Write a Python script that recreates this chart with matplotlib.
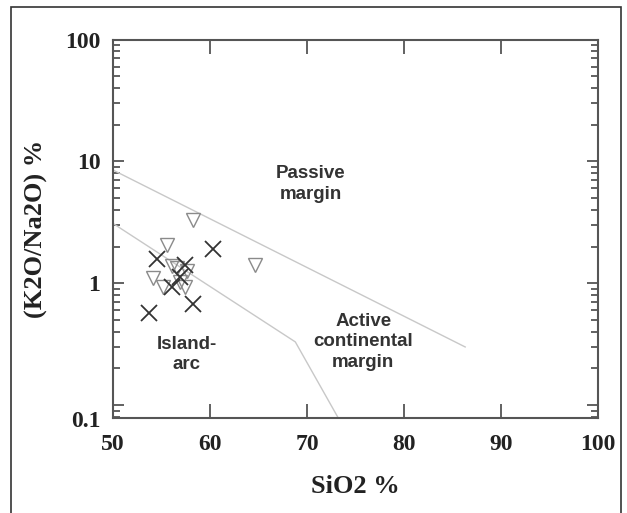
import matplotlib.pyplot as plt
import matplotlib.transforms as mtransforms
from matplotlib.patches import Rectangle

# discrimination boundaries (SiO2 %, K2O/Na2O)
upper_x = [50, 86.3]
upper_y = [8.5, 0.30]
lower_x = [50, 68.8, 73.2]
lower_y = [3.1, 0.33, 0.079]

# samples
cross_x = [54.5, 60.3, 57.4, 56.9, 56.1, 58.3, 53.7]
cross_y = [1.59, 1.90, 1.40, 1.12, 0.93, 0.68, 0.57]
tri_x = [58.3, 55.6, 64.6, 56.1, 56.6, 57.6, 54.1, 55.2, 57.4, 56.9]
tri_y = [3.29, 2.05, 1.40, 1.38, 1.33, 1.25, 1.11, 0.94, 0.94, 1.02]

xticks = [50, 60, 70, 80, 90, 100]
yticks = [0.1, 1, 10, 100]
ytick_labels = ['0.1', '1', '10', '100']

fig = plt.figure(figsize=(6.27, 5.13), dpi=100)
ax = fig.add_axes([0.180, 0.186, 0.774, 0.737])

ax.plot(upper_x, upper_y, color='#c8c8c8', lw=1.0)
ax.plot(lower_x, lower_y, color='#c8c8c8', lw=1.0)

ax.plot(tri_x, tri_y, 'v', ms=10, mfc='none', mec='#8a8a8a', mew=1.0)
ax.plot(cross_x, cross_y, 'x', ms=12, color='#333333', mew=1.3)

ax.set_yscale('log')
ax.set_xlim(50, 100)
ax.set_ylim(0.079, 100)
ax.set_xticks(xticks)
ax.set_xticklabels([str(v) for v in xticks])
ax.set_yticks(yticks)
ax.set_yticklabels(ytick_labels)

tick_font = dict(family='Liberation Serif', weight='bold', size=17)
for lab in ax.get_xticklabels() + ax.get_yticklabels():
    lab.set_fontproperties(tick_font)
    lab.set_color('#222222')

ax.tick_params(which='both', direction='in', top=True, right=True,
               color='#555555', width=1.3)
ax.tick_params(axis='x', which='major', length=10, pad=12)
ax.tick_params(axis='y', which='major', length=8, pad=9)
ax.tick_params(axis='y', which='minor', length=5)
for s in ax.spines.values():
    s.set_color('#555555')
    s.set_linewidth(1.5)

# the 0.1 label sits lower than its tick in the original
lab01 = ax.get_yticklabels()[0]
lab01.set_transform(lab01.get_transform() +
                    mtransforms.ScaledTranslation(0, -10 / 72, fig.dpi_scale_trans))

ax.set_xlabel('SiO2 %', fontfamily='Liberation Serif', fontweight='bold',
              fontsize=19, color='#222222', labelpad=14)
ax.set_ylabel('(K2O/Na2O) %', fontfamily='Liberation Serif', fontweight='bold',
              fontsize=19, color='#222222', labelpad=12)

label_kw = dict(family='Liberation Sans', weight='bold', size=13.5,
                color='#333333', ha='center', va='center', linespacing=1.3)
ax.text(70.4, 6.5, 'Passive\nmargin', **label_kw)
ax.text(75.8, 0.33, 'Active\ncontinental\nmargin', **label_kw)
ax.text(57.6, 0.26, 'Island-\narc', **label_kw)

# outer frame around the figure
fig.patches.append(Rectangle((11 / 627, -0.02), 610 / 627, 1 - 7 / 513 + 0.02,
                             transform=fig.transFigure, fill=False,
                             edgecolor='#333333', lw=1.2))

fig.savefig('out.png', dpi=100)
